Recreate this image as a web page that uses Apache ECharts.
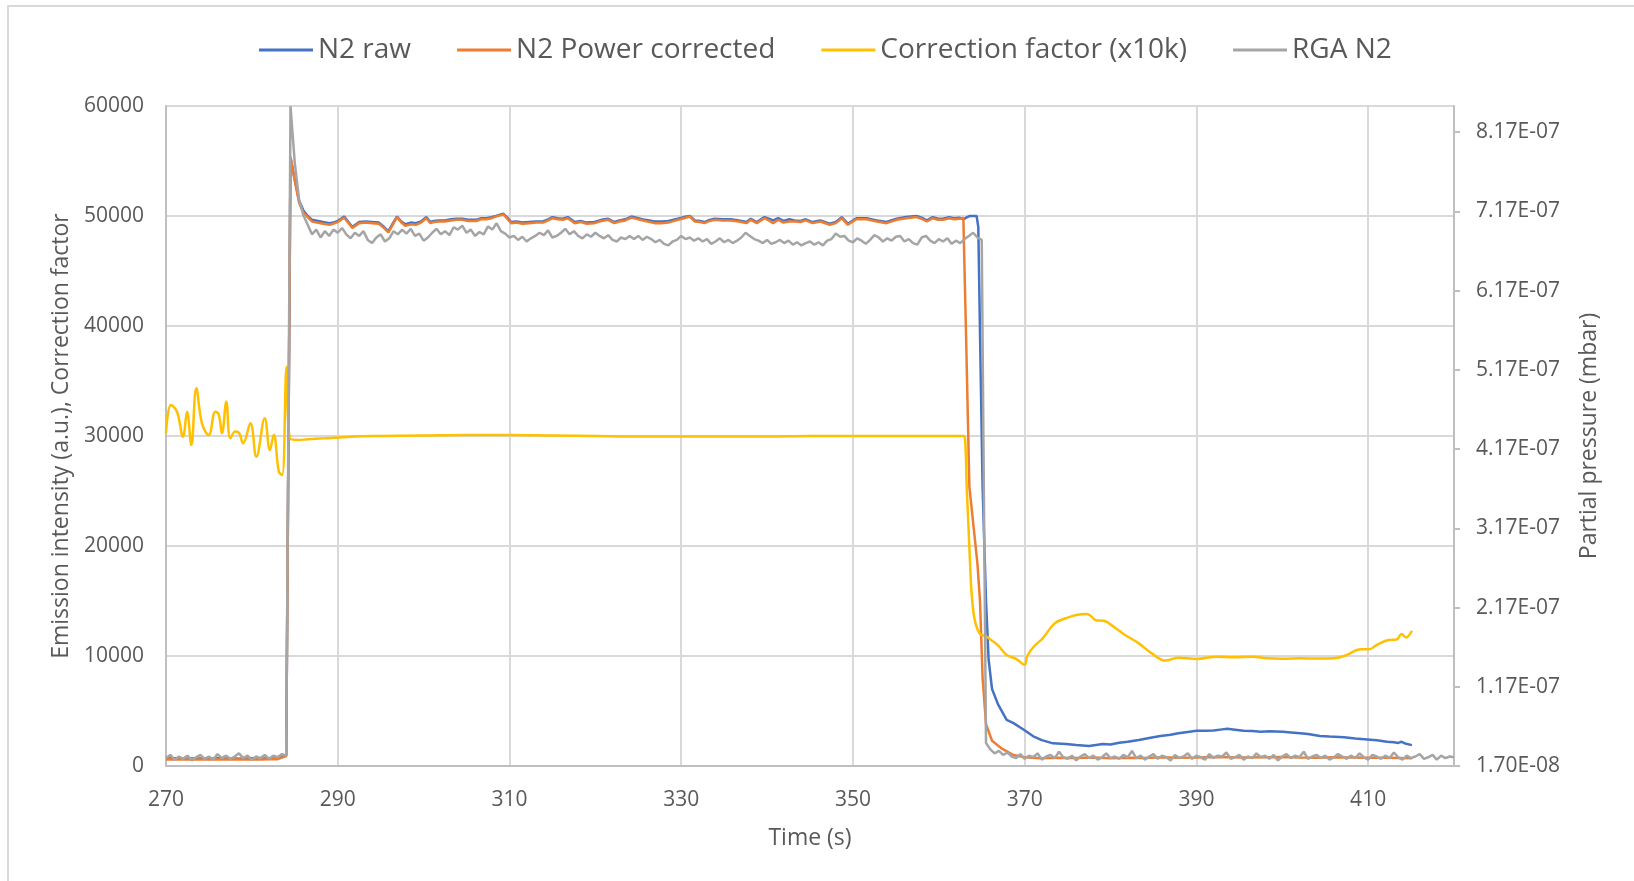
<!DOCTYPE html>
<html>
<head>
<meta charset="utf-8">
<title>N2 emission and RGA partial pressure</title>
<script src="https://cdn.jsdelivr.net/npm/echarts@6/dist/echarts.min.js"></script>
<style>
  html, body { margin: 0; padding: 0; background: #ffffff; }
  #chart { position: absolute; left: 0; top: 0; width: 1634px; height: 881px; }
  #frame { position: absolute; left: 7px; top: 5px; right: -4px; bottom: -4px;
           border-left: 2px solid #d9d9d9; border-top: 2px solid #d9d9d9; pointer-events: none; }
</style>
</head>
<body>
<div id="chart"></div>
<div id="frame"></div>
<script>
// ---- Series names ----
const seriesNames = ['N2 raw', 'N2 Power corrected', 'Correction factor (x10k)', 'RGA N2'];

// ---- Axis ticks ----
const timeMin = 270, timeMax = 420, timeStep = 20;
const emissionMin = 0, emissionMax = 60000, emissionStep = 10000;
const pressureMin = 1.7e-8, pressureMax = 8.5e-7, pressureStep = 1e-7;

// ---- N2 raw emission: [time (s), intensity (a.u.)] ----
const n2Raw = [
  [270,680],[271,700],[272,660],[273,690],[274,680],[275,670],[276,700],[277,680],[278,690],[279,670],
  [280,700],[281,680],[282,690],[283,700],[284,950],[284.5,55300],[285,53300],[285.5,51400],[286,50500],
  [286.5,50000],[287,49650],[288,49500],[289,49350],[289.5,49400],[290,49550],[290.75,49950],[291.2,49500],
  [291.7,49000],[292.5,49450],[293.2,49500],[294,49450],[294.8,49400],[295.4,49000],[295.9,48600],
  [296.4,49300],[296.9,49950],[297.4,49500],[297.9,49250],[298.5,49400],[299.1,49350],[299.7,49500],
  [300.3,49900],[300.8,49450],[301.2,49550],[301.8,49600],[302.5,49600],[303.2,49700],[303.8,49750],
  [304.5,49750],[305.2,49650],[306.1,49650],[306.7,49800],[307.3,49800],[307.9,49900],[308.4,50000],
  [309.3,50200],[309.8,49800],[310.2,49450],[310.8,49500],[311.5,49400],[312.3,49450],[313.1,49500],
  [313.9,49500],[314.5,49700],[315,49900],[315.6,49800],[316.2,49750],[316.8,49900],[317.6,49450],
  [318.3,49550],[319,49400],[319.9,49450],[320.7,49650],[321.5,49750],[322.2,49450],[322.8,49600],
  [323.5,49700],[324.2,49950],[325,49800],[325.8,49650],[326.9,49500],[327.7,49500],[328.5,49550],
  [329.6,49750],[330.3,49900],[331,50000],[331.6,49600],[332.2,49550],[332.7,49450],[333.3,49650],
  [333.9,49750],[334.8,49700],[335.8,49700],[336.7,49600],[337.6,49450],[338.1,49750],[338.8,49450],
  [339.7,49900],[340.2,49750],[340.7,49600],[341.3,49800],[341.9,49550],[342.6,49700],[343.2,49600],
  [343.9,49550],[344.5,49700],[345.3,49450],[346.2,49600],[347.3,49300],[348,49450],[348.7,49900],
  [349.4,49300],[350.4,49800],[351,49800],[351.6,49800],[352.8,49600],[353.9,49450],[355.1,49750],
  [356.2,49900],[357.4,50000],[358,49850],[358.6,49600],[359.3,49900],[359.9,49750],[360.5,49750],
  [361.2,49900],[361.8,49800],[362.4,49850],[362.86,49700],[363.3,49900],[363.6,50000],[364.4,50000],
  [364.6,49000],[364.8,39300],[365.1,25400],[365.5,15000],[365.8,9700],[366.2,7000],[366.9,5600],
  [367.9,4200],[368.7,3900],[369.9,3300],[371,2700],[372,2350],[373.3,2060],[374.8,2000],[376,1900],
  [377.5,1820],[379.1,2000],[380,1950],[381,2120],[382,2200],[383.3,2360],[384.5,2550],[385.8,2730],
  [387,2850],[387.9,2970],[389,3100],[390,3210],[391,3200],[392,3230],[393,3330],[393.6,3380],
  [394.5,3300],[395.5,3210],[396.5,3180],[397.5,3120],[398.5,3150],[400.1,3110],[401,3050],[402.1,2970],
  [403,2900],[404.4,2730],[405.5,2680],[407.2,2610],[408.5,2500],[409.9,2420],[411,2350],[412.2,2210],
  [413,2150],[413.5,2100],[413.9,2200],[414.3,2050],[415.1,1900]
];

// ---- N2 emission after power correction: [time (s), intensity (a.u.)] ----
const n2Corrected = [
  [270,600],[271,620],[272,580],[273,610],[274,600],[275,590],[276,620],[277,600],[278,610],[279,590],
  [280,620],[281,600],[282,610],[283,620],[284,900],[284.5,55400],[285,53200],[285.5,51200],[286,50300],
  [286.5,49900],[287,49500],[288,49350],[289,49200],[289.5,49300],[290,49450],[290.75,49850],[291.2,49400],
  [291.7,48900],[292.5,49350],[293.2,49400],[294,49350],[294.8,49300],[295.4,48900],[295.9,48500],
  [296.4,49200],[296.9,49900],[297.4,49400],[297.9,49100],[298.5,49250],[299.1,49200],[299.7,49400],
  [300.3,49800],[300.8,49350],[301.2,49450],[301.8,49500],[302.5,49500],[303.2,49600],[303.8,49650],
  [304.5,49650],[305.2,49550],[306.1,49550],[306.7,49700],[307.3,49700],[307.9,49800],[308.4,49950],
  [309.3,50150],[309.8,49700],[310.2,49350],[310.8,49400],[311.5,49300],[312.3,49350],[313.1,49400],
  [313.9,49400],[314.5,49600],[315,49800],[315.6,49700],[316.2,49650],[316.8,49800],[317.6,49350],
  [318.3,49450],[319,49300],[319.9,49350],[320.7,49550],[321.5,49650],[322.2,49350],[322.8,49500],
  [323.5,49600],[324.2,49850],[325,49700],[325.8,49550],[326.9,49350],[327.7,49350],[328.5,49400],
  [329.6,49650],[330.3,49800],[331,49950],[331.6,49500],[332.2,49450],[332.7,49350],[333.3,49550],
  [333.9,49650],[334.8,49600],[335.8,49600],[336.7,49500],[337.6,49350],[338.1,49650],[338.8,49350],
  [339.7,49800],[340.2,49600],[340.7,49350],[341.3,49650],[341.9,49400],[342.6,49500],[343.2,49500],
  [343.9,49450],[344.5,49600],[345.3,49350],[346.2,49500],[347.3,49200],[348,49350],[348.7,49800],
  [349.4,49200],[350.4,49700],[351,49700],[351.6,49700],[352.8,49500],[353.9,49350],[355.1,49650],
  [356.2,49800],[357.4,49900],[358,49750],[358.6,49500],[359.3,49800],[359.9,49650],[360.5,49650],
  [361.2,49800],[361.8,49700],[362.4,49750],[362.86,49830],[363.17,39300],[363.56,25400],[364.03,21900],
  [364.5,18400],[364.8,15000],[365.1,8000],[365.5,3800],[366.2,2300],[367.3,1600],[368.7,1000],
  [370,800],[371.8,700],[374,750],[376,720],[378,780],[380,700],[382,760],[384,730],[386,800],
  [388,750],[390,780],[392,820],[394,800],[396,780],[398,800],[400,820],[402,780],[404,760],
  [406,800],[408,770],[410,740],[412,760],[414,720],[415.1,700]
];

// ---- Correction factor scaled by 10 000: [time (s), value] ----
const correctionFactor = [
  [270,30240],[270.58,32820],[271.28,32210],[271.98,29940],[272.45,32200],[272.95,29180],[273.53,34340],
  [274.19,31150],[274.97,30090],[275.75,32210],[276.13,32000],[276.52,30240],[277.02,33120],[277.49,29790],
  [278.07,30400],[278.5,30300],[278.98,29340],[279.83,31150],[280.53,28120],[281.5,31610],[282.1,28730],
  [282.55,30090],[283.14,26760],[283.53,26450],[284.04,36300],[284.42,29790],[285.47,29640],[286.5,29700],
  [288.4,29790],[291.5,29940],[295,30000],[300,30050],[305,30100],[310,30100],[315,30050],[320,30000],
  [325,29950],[330,29950],[335,29950],[340,29950],[345,30000],[350,30000],[355,30000],[360,30000],
  [362.86,30000],[363.06,29700],[363.25,25390],[363.45,21910],[363.64,18430],[363.83,15650],[364.2,13220],
  [364.8,12000],[365.4,11830],[366,11500],[366.9,10960],[367.9,10090],[369,9740],[370,9200],[370.3,10000],
  [371,10800],[372.1,11610],[373.5,12970],[374.8,13430],[376,13730],[377.3,13820],[378.3,13250],
  [379.2,13200],[380.6,12520],[381.7,11910],[383.3,11150],[384.8,10240],[386.4,9580],[387.9,9850],
  [390,9730],[392.4,9940],[394.3,9880],[396.6,9940],[398.2,9790],[400.1,9750],[402.1,9790],[404,9770],
  [406,9790],[407.5,10090],[409.1,10610],[410.1,10610],[411,11000],[412.4,11460],[413.3,11500],
  [413.9,11990],[414.4,11690],[415.1,12300]
];

// ---- RGA N2 partial pressure, one reading every 0.5 s from 270 s, in units of 1e-9 mbar ----
const rgaStart = 270, rgaStep = 0.5;
const rgaN2_nano = [
  27,31,25,29,26,30,24,28,31,26,29,25,32,27,30,26,29,33,27,30,25,29,27,31,26,30,28,32,30,
  850,778,732,712,700,688,694,
  684,692,686,694,690,696,688,683,690,686,
  692,681,677,684,688,679,683,692,688,694,
  689,695,686,689,680,684,690,695,688,692,
  687,697,694,699,690,694,686,691,688,698,
  694,702,692,689,684,686,681,685,679,683,
  686,690,687,693,684,686,690,695,688,692,
  686,683,688,685,690,686,683,687,681,679,
  684,682,686,682,686,681,685,682,678,681,
  676,674,679,681,686,682,684,680,683,679,
  682,676,679,683,678,681,677,680,684,690,
  686,682,680,677,681,676,678,681,677,680,
  675,678,674,677,679,675,678,674,680,682,
  689,685,686,680,678,683,680,676,681,687,
  684,679,683,680,685,686,679,682,677,675,
  684,686,680,677,682,679,683,676,680,677,
  682,686,690,684,
  681,
  46,38,33,36,31,34,29,27,32,26,
  30,28,33,25,29,31,27,35,28,26,
  30,24,29,32,27,30,25,28,33,27,
  29,26,31,28,36,27,30,25,29,32,
  26,30,28,24,31,27,29,33,26,30,
  28,25,32,27,30,29,34,26,28,31,
  25,29,27,33,28,30,26,31,24,29,
  32,27,30,28,35,26,29,31,27,30,
  25,28,32,29,26,30,27,33,28,25,
  31,29,26,30,27,34,28,25,30,27,
  29,32,26,28,31,25,30,27,29,28
];

// ---- Right axis labelled tick values (mbar) ----
const pressureTicks = [1.7e-8, 1.17e-7, 2.17e-7, 3.17e-7, 4.17e-7, 5.17e-7, 6.17e-7, 7.17e-7, 8.17e-7];

// ---- Build chart data ----
const rgaData = rgaN2_nano.map((v, i) => [rgaStart + i * rgaStep, v * 1e-9]);

function sciLabel(v) {
  const parts = Number(v).toExponential(2).split('e');
  const exp = parseInt(parts[1], 10);
  return parts[0] + 'E' + (exp < 0 ? '-' : '+') + String(Math.abs(exp)).padStart(2, '0');
}

function plainLabel(v) {
  return String(Math.round(v));
}

const FONT = '"Open Sans", "Liberation Sans", sans-serif';
const TEXT = '#595959';
const AXIS_LINE = '#bfbfbf';
const GRID_LINE = '#d9d9d9';
const colors = ['#4472C4', '#ED7D31', '#FFC000', '#A5A5A5'];

const chart = echarts.init(document.getElementById('chart'), null, { renderer: 'canvas' });

chart.setOption({
  animation: false,
  backgroundColor: '#ffffff',
  color: colors,
  textStyle: { fontFamily: FONT },
  legend: {
    data: seriesNames,
    left: 259,
    top: 36,
    padding: 0,
    itemGap: 46,
    itemWidth: 54,
    itemHeight: 3,
    icon: 'rect',
    textStyle: { color: TEXT, fontSize: 28, fontFamily: FONT }
  },
  grid: { left: 166, right: 180, top: 106, bottom: 115, containLabel: false },
  xAxis: {
    type: 'value',
    min: timeMin, max: timeMax, interval: timeStep,
    name: 'Time (s)',
    nameLocation: 'middle',
    nameGap: 61,
    nameTextStyle: { color: TEXT, fontSize: 23, fontFamily: FONT },
    axisLine: { show: true, onZero: false, lineStyle: { color: AXIS_LINE, width: 2 } },
    axisTick: { show: false },
    axisLabel: { color: TEXT, fontSize: 21, fontFamily: FONT, margin: 24, showMaxLabel: false,
                 formatter: plainLabel },
    splitLine: { show: true, lineStyle: { color: GRID_LINE, width: 2 } }
  },
  yAxis: [
    {
      type: 'value',
      position: 'left',
      min: emissionMin, max: emissionMax, interval: emissionStep,
      name: 'Emission intensity (a.u.), Correction factor',
      nameLocation: 'middle',
      nameRotate: 90,
      nameGap: 92,
      nameTextStyle: { color: TEXT, fontSize: 23, fontFamily: FONT },
      axisLine: { show: true, lineStyle: { color: AXIS_LINE, width: 2 } },
      axisTick: { show: false },
      axisLabel: { color: TEXT, fontSize: 21, fontFamily: FONT, margin: 22, formatter: plainLabel },
      splitLine: { show: true, lineStyle: { color: GRID_LINE, width: 2 } }
    },
    {
      type: 'value',
      position: 'right',
      min: pressureMin, max: pressureMax, interval: pressureStep,
      name: 'Partial pressure (mbar)',
      nameLocation: 'middle',
      nameRotate: 90,
      nameGap: 124,
      nameTextStyle: { color: TEXT, fontSize: 23, fontFamily: FONT },
      axisLine: { show: true, lineStyle: { color: AXIS_LINE, width: 2 } },
      axisTick: { show: true, inside: false, length: 6, customValues: pressureTicks,
                  lineStyle: { color: AXIS_LINE, width: 2 } },
      axisLabel: { color: TEXT, fontSize: 21, fontFamily: FONT, margin: 22,
                   customValues: pressureTicks, formatter: sciLabel },
      splitLine: { show: false }
    }
  ],
  series: [
    {
      name: seriesNames[0], type: 'line', yAxisIndex: 0, data: n2Raw,
      showSymbol: false, symbol: 'none', lineStyle: { width: 2.5, color: colors[0] }
    },
    {
      name: seriesNames[1], type: 'line', yAxisIndex: 0, data: n2Corrected,
      showSymbol: false, symbol: 'none', lineStyle: { width: 2.5, color: colors[1] }
    },
    {
      name: seriesNames[2], type: 'line', yAxisIndex: 0, data: correctionFactor,
      showSymbol: false, symbol: 'none', smooth: 0.4, lineStyle: { width: 2.5, color: colors[2] }
    },
    {
      name: seriesNames[3], type: 'line', yAxisIndex: 1, data: rgaData,
      showSymbol: false, symbol: 'none', lineStyle: { width: 2.5, color: colors[3] }
    }
  ]
});
</script>
</body>
</html>
